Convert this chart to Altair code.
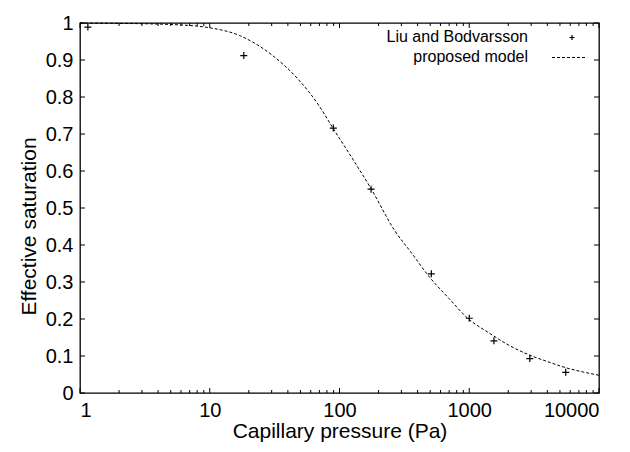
import altair as alt
import pandas as pd

# Measured data (Liu and Bodvarsson)
data_P = [1.15, 18.3, 89.6, 175, 510, 1000, 1550, 2930, 5540]
data_Se = [0.989, 0.912, 0.716, 0.551, 0.322, 0.202, 0.141, 0.093, 0.056]

# Proposed model curve
model_P = [1, 2, 5, 10, 17, 30, 48, 70, 89, 125, 176, 265, 360, 492, 700, 966,
           1425, 2000, 2890, 4000, 5600, 7500, 10000]
model_Se = [1.0, 0.999, 0.996, 0.987, 0.966, 0.914, 0.848, 0.775, 0.716, 0.635,
            0.551, 0.44, 0.378, 0.314, 0.255, 0.203, 0.162, 0.13, 0.103, 0.085,
            0.068, 0.057, 0.048]

# Tick values
x_major = [1, 10, 100, 1000, 10000]
x_minor = [m * d for d in [1, 10, 100, 1000] for m in range(2, 10)]
y_major = [0, 0.1, 0.2, 0.3, 0.4, 0.5, 0.6, 0.7, 0.8, 0.9, 1.0]

W, H = 519, 370
FONT = "Liberation Sans"

pts = pd.DataFrame({"P": data_P, "Se": data_Se})
curve = pd.DataFrame({"P": model_P, "Se": model_Se})
xmaj = pd.DataFrame({"P": x_major})
xmin = pd.DataFrame({"P": x_minor})
ymaj = pd.DataFrame({"Se": y_major})

xscale = alt.Scale(type="log", domain=[1, 10000], nice=False)
yscale = alt.Scale(domain=[0, 1], nice=False, zero=False)

common = dict(ticks=False, domain=False, grid=False, labelPadding=7,
              labelFont=FONT, labelFontSize=20, labelColor="black",
              titleFont=FONT, titleFontSize=21, titleFontWeight="normal",
              titleColor="black", labelOverlap=False)

xaxis = alt.Axis(values=x_major, format="d", title="Capillary pressure (Pa)",
                 titleY=44, titleBaseline="alphabetic", **common)
yaxis = alt.Axis(values=y_major, format=".1~f", title="Effective saturation",
                 titleX=-45, titleY=203, titleBaseline="alphabetic", titleAngle=270,
                 **common)

X = alt.X("P:Q", scale=xscale, axis=xaxis)
Y = alt.Y("Se:Q", scale=yscale, axis=yaxis)

plus = "M-1,0L1,0M0,-1L0,1"

line = alt.Chart(curve).mark_line(
    color="black", strokeWidth=1, strokeDash=[3, 2], interpolate="monotone"
).encode(x=X, y=Y)

points = alt.Chart(pts).mark_point(
    shape=plus, filled=False, stroke="black", strokeWidth=1.2, size=49, opacity=1
).encode(x=X, y=Y)

MAJ, MIN = 5, 3
tb_major = alt.Chart(xmaj).mark_rule(color="black", strokeWidth=1).encode(
    x=X, y=alt.value(H), y2=alt.value(H - MAJ))
tt_major = alt.Chart(xmaj).mark_rule(color="black", strokeWidth=1).encode(
    x=X, y=alt.value(0), y2=alt.value(MAJ))
tb_minor = alt.Chart(xmin).mark_rule(color="black", strokeWidth=1).encode(
    x=X, y=alt.value(H), y2=alt.value(H - MIN))
tt_minor = alt.Chart(xmin).mark_rule(color="black", strokeWidth=1).encode(
    x=X, y=alt.value(0), y2=alt.value(MIN))
tl = alt.Chart(ymaj).mark_rule(color="black", strokeWidth=1).encode(
    y=Y, x=alt.value(0), x2=alt.value(MAJ))
tr = alt.Chart(ymaj).mark_rule(color="black", strokeWidth=1).encode(
    y=Y, x=alt.value(W), x2=alt.value(W - MAJ))

# Legend (gnuplot style: label left, sample right)
one = alt.Data(values=[{}])
leg_t1 = alt.Chart(one).mark_text(
    text="Liu and Bodvarsson", align="right", baseline="alphabetic",
    font=FONT, fontSize=16, color="black"
).encode(x=alt.value(448), y=alt.value(19))
leg_t2 = alt.Chart(one).mark_text(
    text="proposed model", align="right", baseline="alphabetic",
    font=FONT, fontSize=16, color="black"
).encode(x=alt.value(448), y=alt.value(39))
leg_p = alt.Chart(one).mark_point(
    shape=plus, filled=False, stroke="black", strokeWidth=1.2, size=25, opacity=1
).encode(x=alt.value(492), y=alt.value(14.5))
leg_l = alt.Chart(one).mark_rule(color="black", strokeWidth=1, strokeDash=[3, 2]).encode(
    x=alt.value(472), x2=alt.value(505), y=alt.value(34.5))

chart = alt.layer(
    line, points, tb_major, tt_major, tb_minor, tt_minor, tl, tr,
    leg_t1, leg_t2, leg_p, leg_l
).properties(
    width=W, height=H,
    autosize=alt.AutoSizeParams(type="none"),
    padding={"left": 72, "top": 15, "right": 20, "bottom": 50},
    background="white",
).configure_view(
    stroke="black", strokeWidth=1.3
)

chart.save("out.html", embed_options={"renderer": "svg", "actions": False})
